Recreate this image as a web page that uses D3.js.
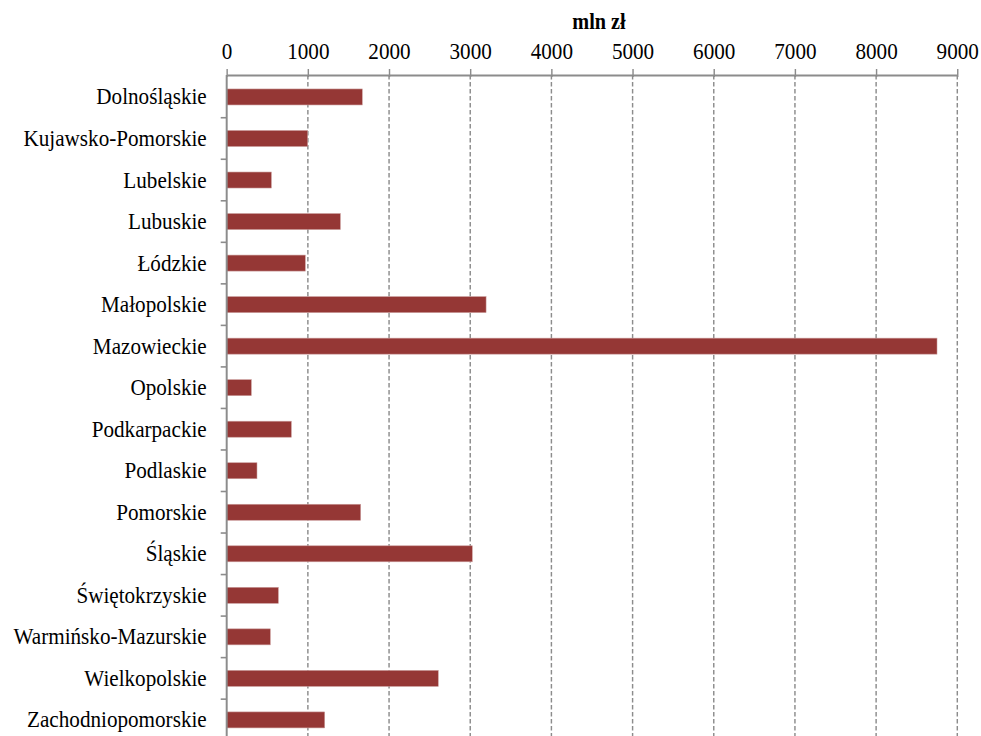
<!DOCTYPE html>
<html>
<head>
<meta charset="utf-8">
<script src="https://cdn.jsdelivr.net/npm/d3@7"></script>
<style>
  html, body { margin: 0; padding: 0; background: #fff; }
  svg { display: block; }
  text { font-family: "Liberation Serif", "Times New Roman", serif; fill: #000; }
</style>
</head>
<body>
<svg id="chart" width="981" height="736"></svg>
<script>
const categories = ["Dolnośląskie","Kujawsko-Pomorskie","Lubelskie","Lubuskie","Łódzkie","Małopolskie","Mazowieckie","Opolskie","Podkarpackie","Podlaskie","Pomorskie","Śląskie","Świętokrzyskie","Warmińsko-Mazurskie","Wielkopolskie","Zachodniopomorskie"];
const values = [1670, 997, 550, 1400, 968, 3195, 8750, 303, 796, 373, 1650, 3025, 636, 537, 2606, 1207];
const xTicks = [0,1000,2000,3000,4000,5000,6000,7000,8000,9000];
const axisTitle = "mln zł";

const SX = 0.9; // horizontal compression of the original rendering
const svg = d3.select("#chart");
const root = svg.append("g").attr("transform", `scale(${SX},1)`);

const axisY = 75;
const x = d3.scaleLinear().domain([0, 9000]).range([226.7 / SX, 957.3 / SX]);
const step = 41.53;
const y = d3.scaleBand().domain(categories)
  .range([76.2, 76.2 + step * categories.length])
  .paddingInner(0.615).paddingOuter(0.3075);

// gridlines
root.append("g").selectAll("line")
  .data(xTicks.filter(d => d > 0))
  .join("line")
  .attr("x1", d => x(d)).attr("x2", d => x(d))
  .attr("y1", axisY).attr("y2", 736)
  .attr("stroke", "#8c8c8c").attr("stroke-width", 1.6)
  .attr("stroke-dasharray", "4.5,2.5");

// bars
root.append("g").selectAll("rect")
  .data(categories.map((c, i) => ({c, v: values[i]})))
  .join("rect")
  .attr("x", x(0))
  .attr("y", d => y(d.c))
  .attr("width", d => x(d.v) - x(0))
  .attr("height", y.bandwidth())
  .attr("fill", "#953735")
  .attr("stroke", "#c99a99").attr("stroke-width", 0.6);

// top axis
const xAxis = root.append("g").attr("transform", `translate(0,${axisY})`)
  .call(d3.axisTop(x).tickValues(xTicks).tickFormat(d3.format("d")).tickSizeInner(6).tickSizeOuter(0).tickPadding(10));
xAxis.attr("font-family", null);
xAxis.select(".domain").attr("stroke", "#8c8c8c").attr("stroke-width", 2);
xAxis.selectAll(".tick line").attr("stroke", "#8c8c8c").attr("stroke-width", 1.6).attr("y2", -6).attr("y1", 2);
xAxis.selectAll(".tick text").attr("font-size", "23.5px").attr("font-family", "Liberation Serif");

// left axis
const yAxis = root.append("g").attr("transform", `translate(${x(0)},0)`)
  .call(d3.axisLeft(y).tickSize(0).tickPadding(20 / SX));
yAxis.attr("font-family", null);
yAxis.select(".domain").remove();
yAxis.selectAll(".tick text").attr("font-size", "23.5px").attr("font-family", "Liberation Serif");

root.append("line")
  .attr("x1", x(0)).attr("x2", x(0))
  .attr("y1", axisY).attr("y2", 736)
  .attr("stroke", "#8c8c8c").attr("stroke-width", 2.2);

// category boundary ticks
const bounds = d3.range(1, categories.length + 1).map(i => 76.2 + i * step);
root.append("g").selectAll("line")
  .data(bounds)
  .join("line")
  .attr("x1", x(0) - 6 / SX).attr("x2", x(0))
  .attr("y1", d => d).attr("y2", d => d)
  .attr("stroke", "#8c8c8c").attr("stroke-width", 1.6);

// title
root.append("text")
  .attr("x", 599 / SX).attr("y", 29)
  .attr("text-anchor", "middle")
  .attr("font-size", "22.5px").attr("font-weight", "bold")
  .text(axisTitle);
</script>
</body>
</html>
